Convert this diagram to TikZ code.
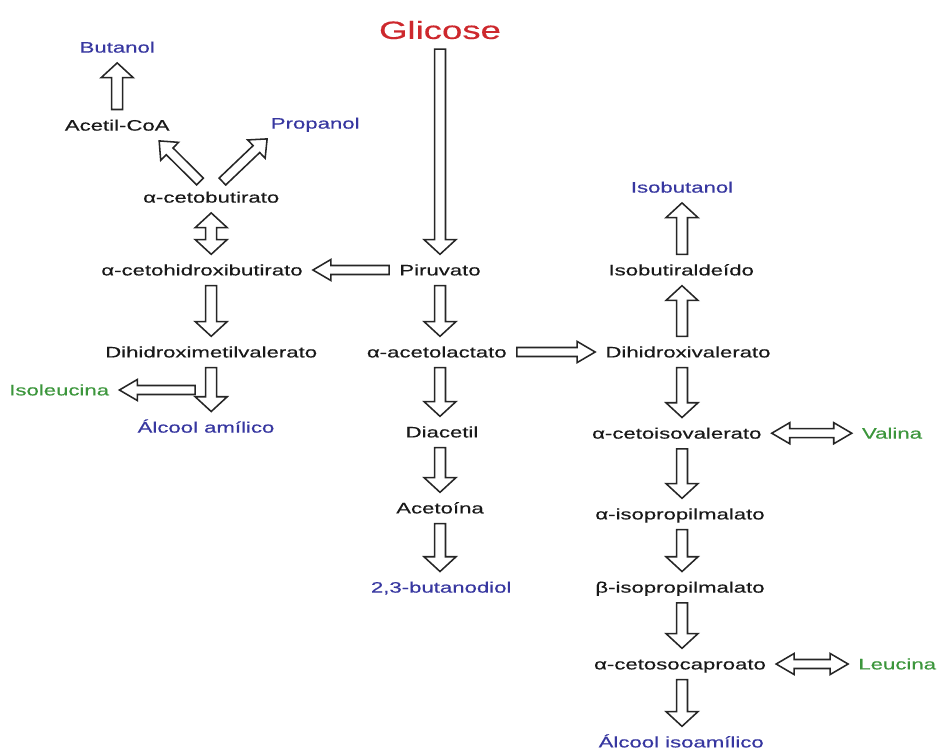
\documentclass[tikz,border=0pt]{standalone}
\usepackage{fontspec}
\setmainfont{Liberation Sans}[FakeStretch=1.46,FakeBold=0.4]
\usepackage{tikz}
\usetikzlibrary{calc}
\definecolor{prodblue}{RGB}{55,55,160}
\definecolor{aminogreen}{RGB}{60,150,60}
\definecolor{glicred}{RGB}{205,40,45}
\newcommand{\fatarrow}[3][vdims]{%
  \path[#1] ($(#3)!\arhl!(#2)$) coordinate (hb);
  \draw[fat,#1] ($(#2)!\arsw!90:(#3)$) -- ($(hb)!\arsw!-90:(#2)$) -- ($(hb)!\arhw!-90:(#2)$)
    -- (#3) -- ($(hb)!\arhw!90:(#2)$) -- ($(hb)!\arsw!90:(#2)$) -- ($(#2)!\arsw!-90:(#3)$) -- cycle;}
\newcommand{\fatboth}[3][vdims]{%
  \path[#1] ($(#2)!\arhl!(#3)$) coordinate (ha) ($(#3)!\arhl!(#2)$) coordinate (hb);
  \draw[fat,#1] (#2) -- ($(ha)!\arhw!90:(#3)$) -- ($(ha)!\arsw!90:(#3)$) -- ($(hb)!\arsw!-90:(#2)$)
    -- ($(hb)!\arhw!-90:(#2)$) -- (#3) -- ($(hb)!\arhw!90:(#2)$) -- ($(hb)!\arsw!90:(#2)$)
    -- ($(ha)!\arsw!-90:(#3)$) -- ($(ha)!\arhw!-90:(#3)$) -- cycle;}

\begin{document}
\begin{tikzpicture}[
  lbl/.style={inner xsep=0.25cm,inner ysep=0.25cm,text height=7.7pt,text depth=0pt,
    text=black!90,font=\fontsize{10.8pt}{13pt}\selectfont},
  prod/.style={lbl,text=prodblue},
  amino/.style={lbl,text=aminogreen},
  fat/.style={draw=black!85,fill=white,line width=1.1pt,line join=miter},
  vdims/.code={\def\arsw{3.9pt}\def\arhw{11.4pt}\def\arhl{10.5pt}},
  hdims/.code={\def\arsw{3.2pt}\def\arhw{7.5pt}\def\arhl{12.8pt}},
  ddims/.code={\def\arsw{3.4pt}\def\arhw{9pt}\def\arhl{10.5pt}}]
  \useasboundingbox (0,0) rectangle (23.45,-18.725);
  \coordinate (lcol) at (5.28,0);
  \coordinate (ccol) at (11.0,0);
  \coordinate (rcol) at (17.05,0);
  \node[lbl,text=glicred,text height=12.7pt,font=\fontsize{17.8pt}{20pt}\selectfont] (glic) at (11.0,-0.75) {Glicose};
  \node[prod] (buol) at (2.93,-1.18) {Butanol};
  \node[lbl] (acoa) at (2.93,-3.13) {Acetil-CoA};
  \node[prod] (prop) at (7.88,-3.08) {Propanol};
  \node[lbl] (cbut) at (5.28,-4.93) {α-cetobutirato};
  \node[lbl] (chbu) at (5.05,-6.75) {α-cetohidroxibutirato};
  \node[lbl] (piru) at (11.0,-6.75) {Piruvato};
  \node[lbl] (dimv) at (5.28,-8.8) {Dihidroximetilvalerato};
  \node[lbl] (acla) at (10.92,-8.8) {α-acetolactato};
  \node[amino] (isol) at (1.48,-9.75) {Isoleucina};
  \node[prod] (alam) at (5.15,-10.68) {Álcool amílico};
  \node[lbl] (diac) at (11.05,-10.8) {Diacetil};
  \node[lbl] (acet) at (11.0,-12.7) {Acetoína};
  \node[prod] (butd) at (11.03,-14.68) {2,3-butanodiol};
  \node[prod] (isbu) at (17.05,-4.68) {Isobutanol};
  \node[lbl] (isal) at (17.03,-6.75) {Isobutiraldeído};
  \node[lbl] (dval) at (17.2,-8.8) {Dihidroxivalerato};
  \node[lbl] (cisv) at (16.92,-10.83) {α-cetoisovalerato};
  \node[amino] (valn) at (22.3,-10.83) {Valina};
  \node[lbl] (aipm) at (17.0,-12.85) {α-isopropilmalato};
  \node[lbl] (bipm) at (17.0,-14.68) {β-isopropilmalato};
  \node[lbl] (cscp) at (17.0,-16.6) {α-cetosocaproato};
  \node[amino] (leuc) at (22.43,-16.6) {Leucina};
  \node[prod] (aiso) at (17.03,-18.55) {Álcool isoamílico};
  \coordinate (cbl) at ($(cbut.north)+(-0.28,0)$);
  \coordinate (cbr) at ($(cbut.north)+(0.28,0)$);
  \coordinate (acoat) at ($(acoa.south)!0.67!(acoa.south east)$);
  \coordinate (propt) at ($(prop.south west)!0.12!(prop.south)$);
  \coordinate (isoj) at ($(lcol |- isol.east)+(-0.4,0)$);
  \fatarrow{glic.south}{piru.north}
  \fatarrow{piru.south}{ccol |- acla.north}
  \fatarrow{ccol |- acla.south}{ccol |- diac.north}
  \fatarrow{ccol |- diac.south}{acet.north}
  \fatarrow{acet.south}{ccol |- butd.north}
  \fatarrow[hdims]{piru.west}{chbu.east}
  \fatarrow[hdims]{acla.east}{dval.west}
  \fatarrow{acoa.north}{buol.south}
  \fatarrow[ddims]{cbl}{acoat}
  \fatarrow[ddims]{cbr}{propt}
  \fatboth{cbut.south}{lcol |- chbu.north}
  \fatarrow{lcol |- chbu.south}{dimv.north}
  \fatarrow{dimv.south}{lcol |- alam.north}
  \fatarrow[hdims]{isoj}{isol.east}
  \fatarrow{rcol |- isal.north}{isbu.south}
  \fatarrow{rcol |- dval.north}{rcol |- isal.south}
  \fatarrow{rcol |- dval.south}{rcol |- cisv.north}
  \fatarrow{rcol |- cisv.south}{rcol |- aipm.north}
  \fatarrow{rcol |- aipm.south}{rcol |- bipm.north}
  \fatarrow{rcol |- bipm.south}{rcol |- cscp.north}
  \fatarrow{rcol |- cscp.south}{rcol |- aiso.north}
  \fatboth[hdims]{cisv.east}{valn.west}
  \fatboth[hdims]{cscp.east}{leuc.west}
\end{tikzpicture}
\end{document}
